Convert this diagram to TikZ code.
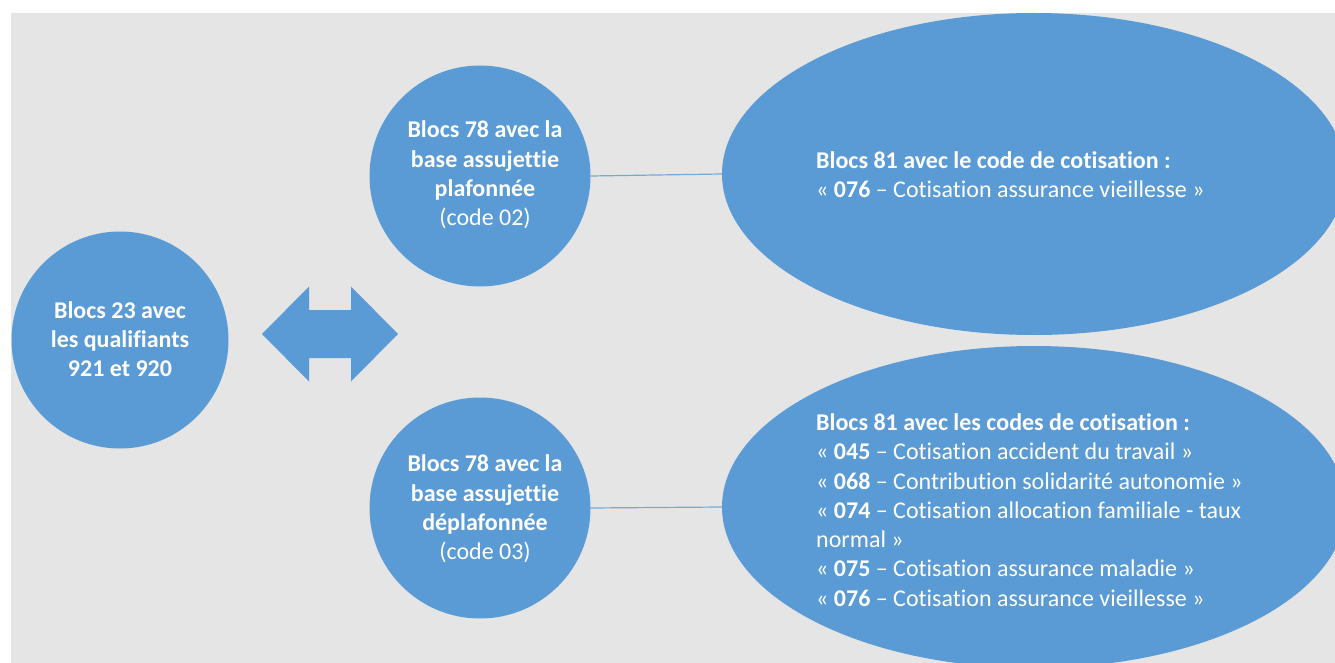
\documentclass[tikz,border=0pt]{standalone}
\usepackage{fontspec}
\setmainfont{Carlito}[Ligatures=NoCommon]
\usetikzlibrary{shapes.geometric}
\definecolor{bgray}{HTML}{E5E5E5}
\definecolor{sblue}{HTML}{5B9BD5}
\begin{document}
\begin{tikzpicture}[x=1pt,y=-1pt,
  blob/.style={fill=sblue,draw=none},
  circ/.style={blob,circle,inner sep=0pt},
  oval/.style={blob,ellipse,inner sep=0pt,minimum width=624pt,minimum height=322pt},
  txt/.style={text=white,font=\fontsize{24}{29.3}\selectfont,inner sep=0pt},
  link/.style={draw=sblue!85!white,line width=1.2pt}]
\useasboundingbox (0,0) rectangle (1335,663);
\fill[white] (0,0) rectangle (1335,663);
\fill[bgray] (11,13) rectangle (1335,663);
\begin{scope}
\clip (11,13) rectangle (1335,663);
\node[circ,minimum size=217pt] (c1) at (120,340) {};
\node[circ,minimum size=221pt] (c2) at (480,176) {};
\node[circ,minimum size=221pt] (c3) at (480,508) {};
\node[oval] (e1) at (1034,174) {};
\node[oval] (e2) at (1034,507) {};
\fill[sblue] (262,334) -- (309,286.5) -- (309,310) -- (351,310) -- (351,286.5)
  -- (398,334) -- (351,381.5) -- (351,358) -- (309,358) -- (309,381.5) -- cycle;
\draw[link] (c2.east) -- (e1.west);
\draw[link] (c3.east) -- (e2.west);
\end{scope}
\node[txt,align=center] (t1) at (120,339) {\bfseries Blocs 23 avec\\\bfseries les qualifiants\\\bfseries 921 et 920};
\node[txt,align=center] (t2) at (485,175) {\bfseries Blocs 78 avec la\\\bfseries base assujettie\\\bfseries plafonnée\\(code 02)};
\node[txt,align=center] (t3) at (485,509) {\bfseries Blocs 78 avec la\\\bfseries base assujettie\\\bfseries déplafonnée\\(code 03)};
\node[txt,align=left,anchor=west] (t4) at (816,175) {\bfseries Blocs 81 avec le code de cotisation :\\« \textbf{076} – Cotisation assurance vieillesse »};
\node[txt,align=left,anchor=west] (t5) at (816,510) {\bfseries Blocs 81 avec les codes de cotisation :\\« \textbf{045} – Cotisation accident du travail »\\« \textbf{068} – Contribution solidarité autonomie »\\« \textbf{074} – Cotisation allocation familiale - taux\\normal »\\« \textbf{075} – Cotisation assurance maladie »\\« \textbf{076} – Cotisation assurance vieillesse »};
\end{tikzpicture}
\end{document}
